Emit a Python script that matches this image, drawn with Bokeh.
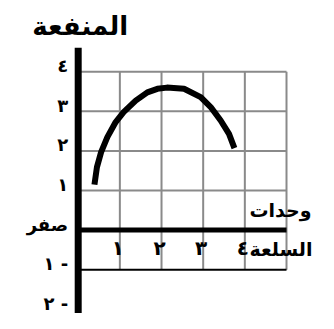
from bokeh.plotting import figure
from bokeh.models import Range1d
from bokeh.core.properties import value
from bokeh.embed import file_html
from bokeh.resources import INLINE

# ---- data ----
curve_x = [0.39, 0.45, 0.55, 0.70, 0.90, 1.09, 1.38, 1.66, 1.90, 2.13, 2.54, 2.94, 3.18, 3.42, 3.62, 3.75]
curve_y = [1.15, 1.59, 1.97, 2.35, 2.73, 2.98, 3.27, 3.48, 3.57, 3.60, 3.57, 3.36, 3.11, 2.77, 2.43, 2.07]

x_ticks = [1, 2, 3, 4]
x_tick_labels = ["١", "٢", "٣", "٤"]
y_ticks = [4, 3, 2, 1, 0, -1, -2]
y_tick_labels = ["٤", "٣", "٢", "١", "صفر", "١ -", "٢ -"]

grid_x = [1, 2, 3, 4, 5]
grid_y = [1, 2, 3, 4]
grid_x_max = 5
grid_y_min = -1
grid_y_max = 4

y_title = "المنفعة"
x_title_1 = "وحدات"
x_title_2 = "السلعة"

FONT = value("DejaVu Sans")

p = figure(width=318, height=313, output_backend="svg", toolbar_location=None,
           x_axis_type=None, y_axis_type=None, min_border=0,
           x_range=Range1d(-1.865, 5.768), y_range=Range1d(-2.107, 5.801))
p.outline_line_color = None
p.xgrid.visible = False
p.ygrid.visible = False

GRAY = "#8a8a8a"
# vertical grid lines
p.segment(x0=grid_x, y0=[grid_y_min] * len(grid_x), x1=grid_x, y1=[grid_y_max] * len(grid_x),
          line_color=GRAY, line_width=2)
# horizontal grid lines
p.segment(x0=[0] * len(grid_y), y0=grid_y, x1=[grid_x_max] * len(grid_y), y1=grid_y,
          line_color=GRAY, line_width=2)
# bottom black line at -1
p.segment(x0=[0], y0=[grid_y_min], x1=[grid_x_max], y1=[grid_y_min],
          line_color="black", line_width=2)
# thick zero line (x axis)
p.segment(x0=[0], y0=[0], x1=[grid_x_max], y1=[0], line_color="black", line_width=5)
# y axis
p.segment(x0=[0], y0=[-2.5], x1=[0], y1=[4.61], line_color="black", line_width=7)

# curve
p.line(curve_x, curve_y, line_color="black", line_width=6, line_cap="butt", line_join="round")

# y tick labels
p.text(x=[0] * len(y_ticks), y=y_ticks, text=y_tick_labels, x_offset=-10, y_offset=-6,
       text_align="right", text_baseline="middle", text_font=FONT,
       text_font_style="bold", text_font_size="18px", text_color="black")

# x tick labels
p.text(x=x_ticks, y=[0] * len(x_ticks), text=x_tick_labels, x_offset=-2, y_offset=18,
       text_align="center", text_baseline="middle", text_font=FONT,
       text_font_style="bold", text_font_size="20px", text_color="black")

# axis titles
p.text(x=[0], y=[grid_y_max], text=[y_title], x_offset=2, y_offset=-46,
       text_align="center", text_baseline="middle", text_font=FONT,
       text_font_style="bold", text_font_size="26px", text_color="black")
p.text(x=[grid_x_max], y=[0], text=[x_title_1], x_offset=-37, y_offset=-20,
       text_align="left", text_baseline="middle", text_font=FONT,
       text_font_style="bold", text_font_size="19px", text_color="black")
p.text(x=[grid_x_max], y=[0], text=[x_title_2], x_offset=-37, y_offset=19,
       text_align="left", text_baseline="middle", text_font=FONT,
       text_font_style="bold", text_font_size="19px", text_color="black")

open("out.html", "w").write(file_html(p, INLINE))
